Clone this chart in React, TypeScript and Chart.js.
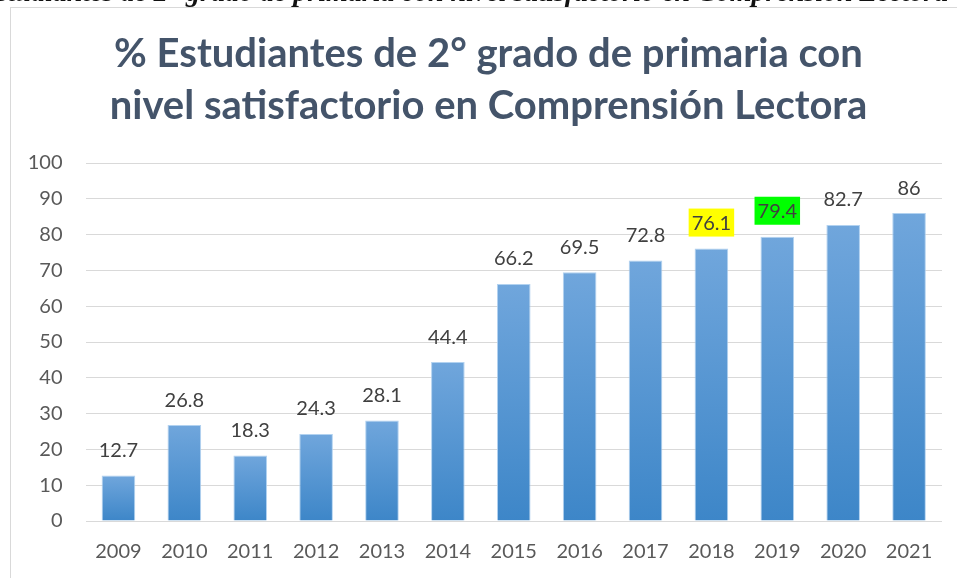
import React, { useEffect, useRef, useState } from "react";
import { Chart, registerables } from "chart.js";

Chart.register(...registerables);

const years = ["2009", "2010", "2011", "2012", "2013", "2014", "2015", "2016", "2017", "2018", "2019", "2020", "2021"];
const values = [12.7, 26.8, 18.3, 24.3, 28.1, 44.4, 66.2, 69.5, 72.8, 76.1, 79.4, 82.7, 86];
const labelHighlights: (string | null)[] = [null, null, null, null, null, null, null, null, null, "#ffff00", "#00ff00", null, null];
const titleLines = ["% Estudiantes de 2° grado de primaria con", "nivel satisfactorio en Comprensión Lectora"];
const headingPrefix = "% Estudiantes de 2° ";
const headingRest = "grado de primaria con nivel satisfactorio en Comprensión Lectora";

const FONT = "Lato, 'Open Sans', sans-serif";
const HEADING_FONT = "italic bold 28px 'Liberation Serif', serif";

const titlePlugin = {
  id: "centeredTitle",
  afterDraw(chart: any) {
    const ctx = chart.ctx;
    ctx.save();
    ctx.font = `bold 40px ${FONT}`;
    ctx.fillStyle = "#44546a";
    ctx.textAlign = "center";
    ctx.textBaseline = "alphabetic";
    const cx = (chart.width + 20) / 2;
    titleLines.forEach((line, i) => ctx.fillText(line, cx, 67 + i * 52));
    ctx.restore();
  },
};

const dataLabelPlugin = {
  id: "dataLabels",
  afterDatasetsDraw(chart: any) {
    const ctx = chart.ctx;
    const meta = chart.getDatasetMeta(0);
    ctx.save();
    ctx.font = `20px ${FONT}`;
    ctx.textAlign = "center";
    ctx.textBaseline = "middle";
    meta.data.forEach((bar: any, i: number) => {
      const text = String(values[i]);
      const x = bar.x;
      const y = bar.y - 26;
      const hl = labelHighlights[i];
      if (hl) {
        const w = ctx.measureText(text).width + 6;
        ctx.fillStyle = hl;
        ctx.fillRect(x - w / 2, y - 14, w, 28);
      }
      ctx.fillStyle = "#404040";
      ctx.fillText(text, x, y + 1);
    });
    ctx.restore();
  },
};

export default function App() {
  const canvasRef = useRef<HTMLCanvasElement | null>(null);
  const [headingLeft, setHeadingLeft] = useState(0);

  useEffect(() => {
    const c = document.createElement("canvas").getContext("2d");
    if (c) {
      c.font = HEADING_FONT;
      setHeadingLeft(186 - c.measureText(headingPrefix).width);
    }
  }, []);

  useEffect(() => {
    if (!canvasRef.current) return;
    const chart = new Chart(canvasRef.current, {
      type: "bar",
      data: {
        labels: years,
        datasets: [
          {
            data: values,
            backgroundColor: (c: any) => {
              const ch = c.chart;
              if (!ch.chartArea || c.raw == null) return "#5597d3";
              const ys = ch.scales.y;
              const top = ys.getPixelForValue(c.raw);
              const bottom = ys.getPixelForValue(0);
              const g = ch.ctx.createLinearGradient(0, top, 0, bottom);
              g.addColorStop(0, "#70a6dc");
              g.addColorStop(1, "#3d86c8");
              return g;
            },
            borderColor: "rgba(170,205,238,0.9)",
            borderWidth: 1,
            barPercentage: 0.51,
            categoryPercentage: 1,
          },
        ],
      },
      options: {
        animation: false,
        responsive: false,
        maintainAspectRatio: false,
        layout: { padding: { left: 0, right: 15, top: 163, bottom: 0 } },
        plugins: {
          legend: { display: false },
          tooltip: { enabled: false },
          title: { display: false },
        },
        scales: {
          x: {
            grid: { display: false, drawTicks: false },
            border: { display: false },
            ticks: { color: "#595959", font: { family: FONT, size: 20 }, padding: 19, maxRotation: 0 },
            afterFit: (s: any) => {
              s.height = 57;
            },
          },
          y: {
            min: 0,
            max: 100,
            ticks: { stepSize: 10, color: "#595959", font: { family: FONT, size: 20 }, padding: 23 },
            grid: { color: "#d9d9d9", lineWidth: 1, drawTicks: false },
            border: { display: false },
            afterFit: (s: any) => {
              s.width = 85.5;
            },
          },
        },
      },
      plugins: [dataLabelPlugin, titlePlugin],
    });
    return () => chart.destroy();
  }, []);

  return (
    <div style={{ position: "fixed", left: 0, top: 0, width: 957, height: 578, background: "#fff", overflow: "hidden" }}>
      <div
        style={{
          position: "absolute",
          left: 10,
          top: 7,
          width: 1000,
          height: 600,
          borderLeft: "1px solid #d9d9d9",
          borderTop: "1px solid #d9d9d9",
          background: "#fff",
        }}
      />
      <canvas ref={canvasRef} width={957} height={578} style={{ position: "absolute", left: 0, top: 0 }} />
      <div
        style={{
          position: "absolute",
          left: headingLeft,
          top: -22,
          whiteSpace: "nowrap",
          font: HEADING_FONT,
          lineHeight: "28px",
          color: "#111",
        }}
      >
        {headingPrefix}
        {headingRest}
      </div>
    </div>
  );
}
